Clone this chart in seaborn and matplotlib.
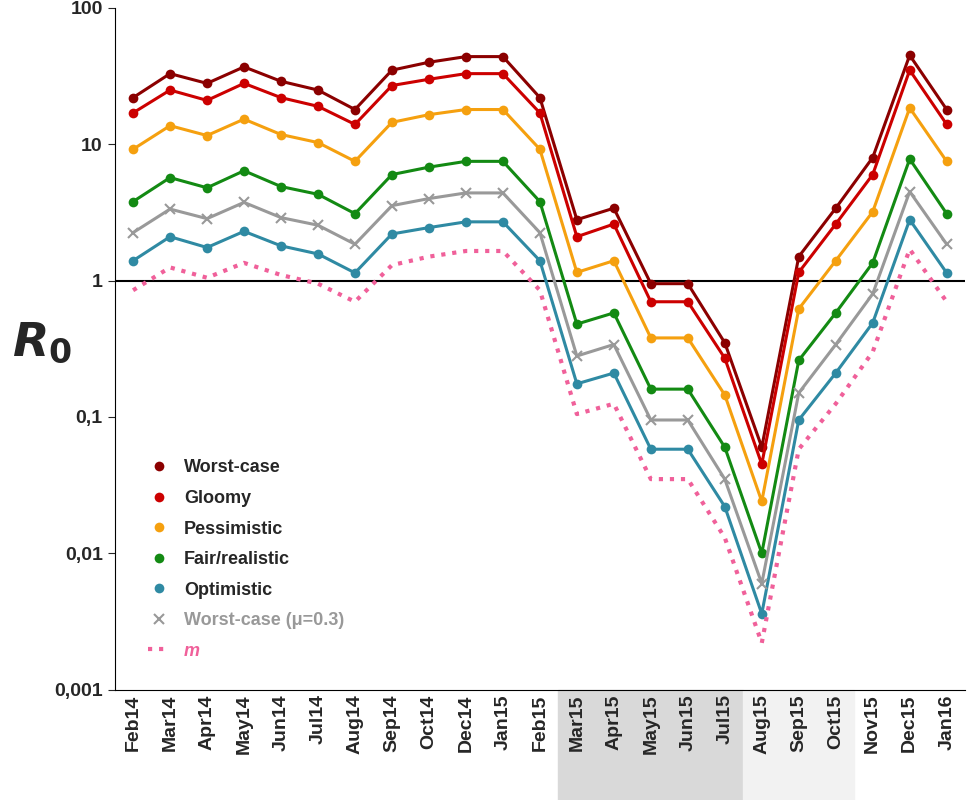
import numpy as np
import pandas as pd
import matplotlib
matplotlib.use('Agg')
import matplotlib.pyplot as plt
import seaborn as sns
from matplotlib.patches import Rectangle
from matplotlib.lines import Line2D
from matplotlib.ticker import FixedLocator, NullLocator

months = ['Feb14', 'Mar14', 'Apr14', 'May14', 'Jun14', 'Jul14', 'Aug14', 'Sep14', 'Oct14',
          'Dec14', 'Jan15', 'Feb15', 'Mar15', 'Apr15', 'May15', 'Jun15', 'Jul15', 'Aug15',
          'Sep15', 'Oct15', 'Nov15', 'Dec15', 'Jan16']

worst = [22, 33, 28, 37, 29, 25, 18, 35, 40, 44, 44, 22, 2.8, 3.4, 0.95, 0.95, 0.35, 0.06, 1.5, 3.4, 8, 45, 18]
gloomy = [17, 25, 21, 28, 22, 19, 14, 27, 30, 33, 33, 17, 2.1, 2.6, 0.7, 0.7, 0.27, 0.045, 1.15, 2.6, 6, 35, 14]
pessimistic = [9.2, 13.7, 11.6, 15.3, 11.8, 10.3, 7.5, 14.5, 16.5, 18, 18, 9.2, 1.15, 1.4, 0.38, 0.38, 0.145,
               0.024, 0.62, 1.4, 3.2, 18.5, 7.5]
fair = [3.8, 5.7, 4.8, 6.4, 4.9, 4.3, 3.1, 6.0, 6.8, 7.5, 7.5, 3.8, 0.48, 0.58, 0.16, 0.16, 0.06, 0.01, 0.26,
        0.58, 1.35, 7.8, 3.1]
optimistic = [1.4, 2.1, 1.75, 2.3, 1.8, 1.57, 1.14, 2.2, 2.45, 2.7, 2.7, 1.4, 0.175, 0.21, 0.058, 0.058, 0.022,
              0.0036, 0.095, 0.21, 0.49, 2.8, 1.14]
worst_mu = [2.25, 3.35, 2.85, 3.75, 2.9, 2.55, 1.85, 3.55, 4.0, 4.4, 4.4, 2.25, 0.28, 0.34, 0.095, 0.095, 0.035,
            0.006, 0.15, 0.34, 0.8, 4.5, 1.85]
m_vals = [0.85, 1.25, 1.05, 1.35, 1.1, 0.95, 0.7, 1.3, 1.5, 1.65, 1.65, 0.85, 0.105, 0.125, 0.035, 0.035, 0.013,
          0.0022, 0.058, 0.125, 0.3, 1.7, 0.7]

sns.set_style('white')
plt.rcParams['font.family'] = ['Liberation Sans', 'DejaVu Sans']

fig = plt.figure(figsize=(9.71, 8), dpi=100)
ax = fig.add_axes([0.118, 0.138, 0.876, 0.852])
x = np.arange(len(months))

series = [
    ('Worst-case', worst, '#8b0000', 'o'),
    ('Gloomy', gloomy, '#cc0000', 'o'),
    ('Pessimistic', pessimistic, '#f5a00f', 'o'),
    ('Fair/realistic', fair, '#138a13', 'o'),
    ('Optimistic', optimistic, '#2f8aa3', 'o'),
    ('Worst-case (\u03bc=0.3)', worst_mu, '#999999', 'x'),
]
handles = []
for name, vals, col, mk in series:
    sns.lineplot(x=x, y=vals, ax=ax, color=col, marker=mk, markersize=7, lw=2.2,
                 markeredgecolor=col, markeredgewidth=1.5 if mk == 'x' else 0, legend=False)
    handles.append(Line2D([], [], color=col, marker=mk, linestyle='none', markersize=7,
                          markeredgecolor=col, markeredgewidth=1.5 if mk == 'x' else 0, label=name))
sns.lineplot(x=x, y=m_vals, ax=ax, color='#f0609a', lw=3, linestyle=':', legend=False)
handles.append(Line2D([], [], color='#f0609a', lw=3, linestyle=':', label='m'))

ax.axhline(1, color='black', lw=1.5, zorder=1)
ax.set_yscale('log')
ax.set_ylim(0.001, 100)
ax.set_xlim(-0.5, len(months) - 0.5)
ax.yaxis.set_major_locator(FixedLocator([0.001, 0.01, 0.1, 1, 10, 100]))
ax.yaxis.set_minor_locator(NullLocator())
ax.set_yticklabels(['0,001', '0,01', '0,1', '1', '10', '100'], fontsize=14, fontweight='bold')
ax.set_xticks(x)
ax.set_xticklabels(months, rotation=90, fontsize=14, fontweight='bold')
ax.tick_params(axis='y', length=5, left=True)
ax.tick_params(axis='x', length=0, bottom=False)
for s in ['top', 'right']:
    ax.spines[s].set_visible(False)
for s in ['left', 'bottom']:
    ax.spines[s].set_color('black')

# shaded label backgrounds
ax.add_patch(Rectangle((11.5, -0.17), 5, 0.17, transform=ax.get_xaxis_transform(),
                       color='#d9d9d9', clip_on=False, zorder=-1))
ax.add_patch(Rectangle((16.5, -0.17), 3, 0.17, transform=ax.get_xaxis_transform(),
                       color='#f2f2f2', clip_on=False, zorder=-1))

fig.text(0.012, 0.555, '$\\boldsymbol{R}_{\\mathbf{0}}$', fontsize=34, fontweight='bold', style='italic')

leg = ax.legend(handles=handles, loc='lower left', bbox_to_anchor=(0.02, 0.02), frameon=False,
                handlelength=1.2, labelspacing=0.75, prop={'weight': 'bold', 'size': 13})
texts = leg.get_texts()
texts[5].set_color('#999999')
texts[6].set_color('#f0609a')
texts[6].set_style('italic')

fig.savefig('out.png', dpi=100)
